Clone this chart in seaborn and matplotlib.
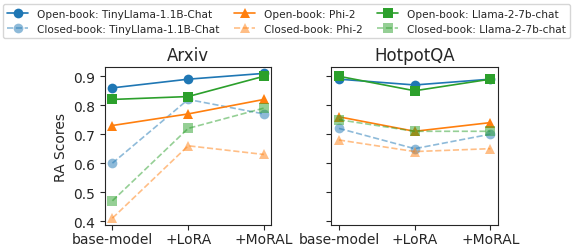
import matplotlib
matplotlib.use("Agg")
import matplotlib.pyplot as plt
import seaborn as sns
import pandas as pd

methods = ["base-model", "+LoRA", "+MoRAL"]
datasets = ["Arxiv", "HotpotQA"]
models = ["TinyLlama-1.1B-Chat", "Phi-2", "Llama-2-7b-chat"]

# Arxiv
arxiv_open_tiny = [0.86, 0.89, 0.91]
arxiv_closed_tiny = [0.60, 0.82, 0.77]
arxiv_open_phi = [0.73, 0.77, 0.82]
arxiv_closed_phi = [0.41, 0.66, 0.63]
arxiv_open_llama = [0.82, 0.83, 0.90]
arxiv_closed_llama = [0.47, 0.72, 0.79]

# HotpotQA
hotpot_open_tiny = [0.89, 0.87, 0.89]
hotpot_closed_tiny = [0.72, 0.65, 0.70]
hotpot_open_phi = [0.76, 0.71, 0.74]
hotpot_closed_phi = [0.68, 0.64, 0.65]
hotpot_open_llama = [0.90, 0.85, 0.89]
hotpot_closed_llama = [0.75, 0.71, 0.71]

values = {
    "Arxiv": {
        ("Open-book", "TinyLlama-1.1B-Chat"): arxiv_open_tiny,
        ("Closed-book", "TinyLlama-1.1B-Chat"): arxiv_closed_tiny,
        ("Open-book", "Phi-2"): arxiv_open_phi,
        ("Closed-book", "Phi-2"): arxiv_closed_phi,
        ("Open-book", "Llama-2-7b-chat"): arxiv_open_llama,
        ("Closed-book", "Llama-2-7b-chat"): arxiv_closed_llama,
    },
    "HotpotQA": {
        ("Open-book", "TinyLlama-1.1B-Chat"): hotpot_open_tiny,
        ("Closed-book", "TinyLlama-1.1B-Chat"): hotpot_closed_tiny,
        ("Open-book", "Phi-2"): hotpot_open_phi,
        ("Closed-book", "Phi-2"): hotpot_closed_phi,
        ("Open-book", "Llama-2-7b-chat"): hotpot_open_llama,
        ("Closed-book", "Llama-2-7b-chat"): hotpot_closed_llama,
    },
}

colors = {"TinyLlama-1.1B-Chat": "#1f77b4", "Phi-2": "#ff7f0e", "Llama-2-7b-chat": "#2ca02c"}
markers = {"TinyLlama-1.1B-Chat": "o", "Phi-2": "^", "Llama-2-7b-chat": "s"}

sns.set_style("ticks")
plt.rcParams["font.family"] = ["DejaVu Sans"]

fig, axes = plt.subplots(1, 2, figsize=(5.73, 2.51), dpi=100, sharey=True)
fig.subplots_adjust(left=0.183, right=0.869, top=0.729, bottom=0.098, wspace=0.36)

for ax, ds in zip(axes, datasets):
    for model in models:
        for book in ["Open-book", "Closed-book"]:
            y = values[ds][(book, model)]
            df = pd.DataFrame({"method": methods, "score": y})
            closed = book == "Closed-book"
            sns.lineplot(data=df, x="method", y="score", ax=ax, sort=False,
                         color=colors[model], marker=markers[model],
                         markersize=7, linewidth=1.2,
                         linestyle="--" if closed else "-",
                         alpha=0.5 if closed else 1.0,
                         markeredgewidth=0,
                         label=f"{book}: {model}")
    ax.set_title(ds, fontsize=12, pad=5)
    ax.set_xlabel("")
    ax.set_ylabel("")
    ax.tick_params(labelsize=10, length=3.5)
    ax.tick_params(axis="x", pad=1.5)
    leg = ax.get_legend()
    if leg is not None:
        leg.remove()

axes[0].set_ylabel("RA Scores", fontsize=10)
axes[0].set_ylim(0.385, 0.932)
axes[0].set_yticks([0.4, 0.5, 0.6, 0.7, 0.8, 0.9])
for ax in axes:
    ax.set_xlim(-0.1, 2.1)

h, l = axes[0].get_legend_handles_labels()
fig.legend(h, l, loc="upper center",
           bbox_to_anchor=(0.5, 1.0), ncol=3, fontsize=7.6, frameon=True,
           columnspacing=1.4, handlelength=2.0)

fig.savefig("out.png", dpi=100)
